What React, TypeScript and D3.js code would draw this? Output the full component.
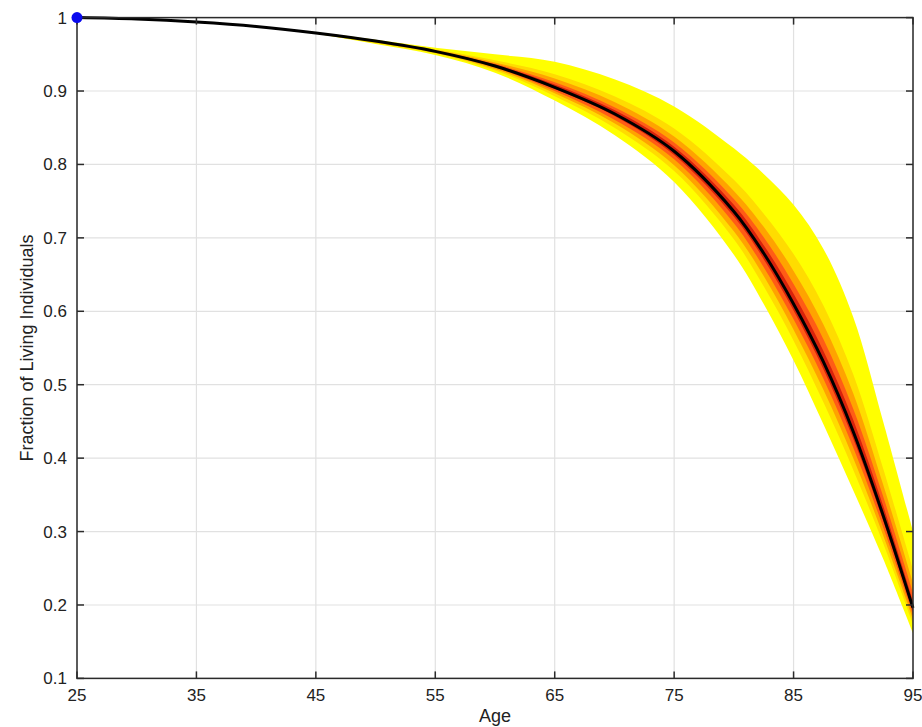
import React from "react";
import * as d3 from "d3";

const ages = [25, 30, 35, 40, 45, 50, 55, 60, 65, 70, 75, 80, 82.5, 85, 87.5, 90, 92.5, 95];
const median = [1, 0.998, 0.994, 0.988, 0.979, 0.968, 0.954, 0.934, 0.905, 0.869, 0.818, 0.736, 0.679, 0.61, 0.531, 0.436, 0.322, 0.196];

const upper1 = [1, 0.998, 0.994, 0.988, 0.98, 0.97, 0.959, 0.95, 0.94, 0.916, 0.879, 0.822, 0.787, 0.745, 0.685, 0.592, 0.45, 0.3];
const lower1 = [1, 0.998, 0.994, 0.988, 0.978, 0.964, 0.949, 0.925, 0.887, 0.84, 0.776, 0.677, 0.61, 0.533, 0.446, 0.356, 0.263, 0.162];
const upper2 = [1, 0.998, 0.994, 0.988, 0.98, 0.969, 0.957, 0.942, 0.923, 0.893, 0.849, 0.779, 0.733, 0.678, 0.608, 0.514, 0.386, 0.248];
const lower2 = [1, 0.998, 0.994, 0.988, 0.978, 0.965, 0.951, 0.928, 0.893, 0.85, 0.791, 0.698, 0.634, 0.56, 0.476, 0.384, 0.284, 0.174];
const upper3 = [1, 0.998, 0.994, 0.988, 0.979, 0.969, 0.956, 0.939, 0.917, 0.885, 0.838, 0.764, 0.715, 0.655, 0.582, 0.488, 0.364, 0.23];
const lower3 = [1, 0.998, 0.994, 0.988, 0.979, 0.966, 0.952, 0.93, 0.897, 0.856, 0.799, 0.709, 0.648, 0.575, 0.493, 0.4, 0.295, 0.181];
const upper4 = [1, 0.998, 0.994, 0.988, 0.979, 0.968, 0.955, 0.937, 0.912, 0.878, 0.83, 0.753, 0.701, 0.637, 0.562, 0.467, 0.348, 0.217];
const lower4 = [1, 0.998, 0.994, 0.988, 0.979, 0.967, 0.953, 0.932, 0.9, 0.861, 0.807, 0.72, 0.66, 0.589, 0.508, 0.414, 0.306, 0.187];
const upper5 = [1, 0.998, 0.994, 0.988, 0.979, 0.968, 0.955, 0.936, 0.909, 0.874, 0.824, 0.745, 0.69, 0.624, 0.546, 0.452, 0.335, 0.206];
const lower5 = [1, 0.998, 0.994, 0.988, 0.979, 0.967, 0.953, 0.933, 0.903, 0.866, 0.813, 0.729, 0.671, 0.601, 0.521, 0.426, 0.315, 0.192];

const bandColors = ["#ffff00", "#ffdc00", "#ffa300", "#ff5c16", "#d8220c"];
const bands = [
  [lower1, upper1],
  [lower2, upper2],
  [lower3, upper3],
  [lower4, upper4],
  [lower5, upper5],
];

const xTicks = [25, 35, 45, 55, 65, 75, 85, 95];
const yTicks = [0.1, 0.2, 0.3, 0.4, 0.5, 0.6, 0.7, 0.8, 0.9, 1];
const xLabel = "Age";
const yLabel = "Fraction of Living Individuals";

export default function App() {
  const W = 922, H = 727;
  const left = 77, right = 913, top = 17.6, bottom = 678.4;
  const x = d3.scaleLinear().domain([25, 95]).range([left, right]);
  const y = d3.scaleLinear().domain([0.1, 1]).range([bottom, top]);
  const curve = d3.curveCatmullRom.alpha(0.5);
  const idx = ages.map((_, i) => i);
  const axisColor = "#2b2b2b";
  const font = "'Liberation Sans', Arial, Helvetica, sans-serif";
  const tl = 7;

  const line = d3.line<number>().x(i => x(ages[i])).y(i => y(median[i])).curve(curve);

  return (
    <svg width={W} height={H} style={{ position: "absolute", left: 0, top: 0, background: "#fff" }} fontFamily={font}>
      <rect x={0} y={0} width={W} height={H} fill="#fff" />
      {xTicks.map(t => (
        <line key={"gx" + t} x1={x(t)} x2={x(t)} y1={top} y2={bottom} stroke="#e1e1e1" strokeWidth={1.2} />
      ))}
      {yTicks.map(t => (
        <line key={"gy" + t} x1={left} x2={right} y1={y(t)} y2={y(t)} stroke="#e1e1e1" strokeWidth={1.2} />
      ))}
      {bands.map(([lo, hi], k) => {
        const area = d3.area<number>()
          .x(i => x(ages[i]))
          .y0(i => y(lo[i]))
          .y1(i => y(hi[i]))
          .curve(curve);
        return <path key={"b" + k} d={area(idx) || ""} fill={bandColors[k]} stroke="none" />;
      })}
      <path d={line(idx) || ""} fill="none" stroke="#000" strokeWidth={3} />
      <rect x={left} y={top} width={right - left} height={bottom - top} fill="none" stroke={axisColor} strokeWidth={1.5} />
      {xTicks.map(t => (
        <g key={"tx" + t}>
          <line x1={x(t)} x2={x(t)} y1={bottom} y2={bottom - tl} stroke={axisColor} strokeWidth={1.5} />
          <line x1={x(t)} x2={x(t)} y1={top} y2={top + tl} stroke={axisColor} strokeWidth={1.5} />
          <text x={x(t)} y={bottom + 23} textAnchor="middle" fontSize={17} fill="#222">{t}</text>
        </g>
      ))}
      {yTicks.map(t => (
        <g key={"ty" + t}>
          <line x1={left} x2={left + tl} y1={y(t)} y2={y(t)} stroke={axisColor} strokeWidth={1.5} />
          <line x1={right} x2={right - tl} y1={y(t)} y2={y(t)} stroke={axisColor} strokeWidth={1.5} />
          <text x={left - 10} y={y(t)} dy="0.35em" textAnchor="end" fontSize={17} fill="#222">{d3.format("~g")(t)}</text>
        </g>
      ))}
      <circle cx={x(ages[0])} cy={y(median[0])} r={5.5} fill="#0a0aee" />
      <text x={(left + right) / 2} y={722} textAnchor="middle" fontSize={18} fill="#222">{xLabel}</text>
      <text transform={`translate(33, ${(top + bottom) / 2}) rotate(-90)`} textAnchor="middle" fontSize={18} fill="#222">{yLabel}</text>
    </svg>
  );
}
